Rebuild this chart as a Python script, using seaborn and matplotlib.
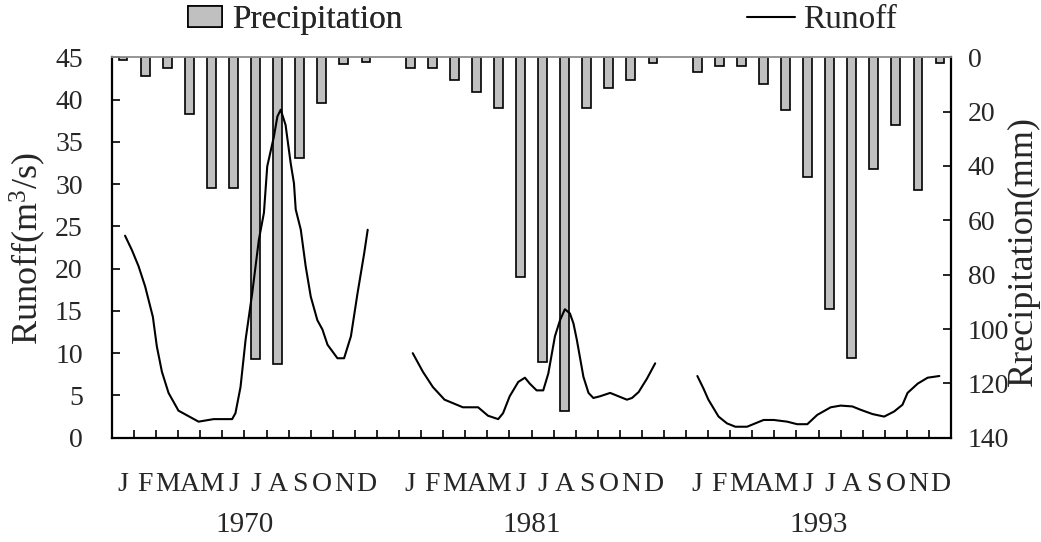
import numpy as np
import pandas as pd
import matplotlib
matplotlib.use("Agg")
import matplotlib.pyplot as plt
import matplotlib.transforms as mtransforms
from matplotlib.patches import Patch
from matplotlib.lines import Line2D
import seaborn as sns

# ---------------- data ----------------
years = ["1970", "1981", "1993"]
month_labels = ["J", "F", "M", "A", "M", "J", "J", "A", "S", "O", "N", "D"]

precip_1970 = [1.0, 7.0, 4.0, 21.0, 48.0, 48.0, 111.0, 113.0, 37.0, 17.0, 2.4, 1.6]
precip_1981 = [4.0, 4.0, 8.4, 12.8, 18.8, 80.7, 112.0, 130.0, 18.8, 11.4, 8.4, 2.2]
precip_1993 = [5.4, 3.1, 3.1, 9.7, 19.5, 44.0, 92.5, 110.5, 41.2, 24.8, 48.8, 2.2]

# runoff: time in fractional months (1 = January), value in m3/s
runoff_1970_t = [1.09, 1.40, 1.70, 2.00, 2.35, 2.53, 2.76, 3.06, 3.51, 4.42, 5.10, 5.94,
                 6.09, 6.32, 6.55, 6.85, 7.15, 7.38, 7.53, 7.83, 7.99, 8.14, 8.36, 8.59,
                 8.74, 8.82, 9.05, 9.27, 9.50, 9.80, 10.03, 10.26, 10.71, 11.01, 11.32,
                 11.62, 11.92, 12.08]
runoff_1970 = [23.9, 22.2, 20.3, 17.9, 14.3, 10.8, 7.8, 5.3, 3.2, 1.9, 2.2, 2.2,
               2.9, 6.0, 11.6, 17.1, 23.4, 26.6, 32.1, 35.6, 38.0, 38.8, 37.0, 32.5,
               30.1, 27.0, 24.6, 20.3, 16.7, 13.9, 12.8, 11.0, 9.4, 9.4, 12.0,
               17.1, 21.8, 24.6]

runoff_1981_t = [1.12, 1.58, 2.03, 2.56, 3.39, 4.08, 4.53, 4.99, 5.21, 5.51, 5.90, 6.20,
                 6.42, 6.73, 7.03, 7.26, 7.56, 7.79, 8.01, 8.24, 8.40, 8.55, 8.85, 9.08,
                 9.30, 9.60, 10.06, 10.44, 10.82, 11.05, 11.35, 11.73, 12.10]
runoff_1981 = [10.0, 7.8, 6.0, 4.5, 3.6, 3.6, 2.6, 2.2, 2.9, 4.9, 6.6, 7.1,
               6.4, 5.6, 5.6, 7.6, 12.0, 13.9, 15.2, 14.7, 13.5, 11.6, 7.2, 5.3,
               4.7, 4.9, 5.3, 4.9, 4.5, 4.7, 5.4, 7.0, 8.8]

runoff_1993_t = [1.01, 1.29, 1.51, 1.97, 2.35, 2.73, 3.26, 4.01, 4.47, 5.08, 5.53, 5.99,
                 6.44, 7.05, 7.50, 8.03, 8.41, 8.94, 9.47, 9.92, 10.30, 10.53, 10.99,
                 11.44, 11.97]
runoff_1993 = [7.3, 5.8, 4.5, 2.5, 1.7, 1.3, 1.3, 2.1, 2.1, 1.9, 1.6, 1.6,
               2.7, 3.6, 3.8, 3.7, 3.3, 2.8, 2.5, 3.1, 3.9, 5.3, 6.4,
               7.1, 7.3]

runoff_ticks = [0, 5, 10, 15, 20, 25, 30, 35, 40, 45]
precip_ticks = [0, 20, 40, 60, 80, 100, 120, 140]

# ---------------- tables ----------------
gap = 13  # 12 months + one empty slot between years
bar_rows = []
for i, (yr, vals) in enumerate(zip(years, [precip_1970, precip_1981, precip_1993])):
    for m, v in enumerate(vals):
        bar_rows.append({"pos": i * gap + m, "precip": v, "year": yr})
bars = pd.DataFrame(bar_rows)

line_rows = []
for i, (yr, ts, vs) in enumerate(zip(years,
                                     [runoff_1970_t, runoff_1981_t, runoff_1993_t],
                                     [runoff_1970, runoff_1981, runoff_1993])):
    for t, v in zip(ts, vs):
        line_rows.append({"pos": i * gap + (t - 1.0), "runoff": v, "year": yr})
lines = pd.DataFrame(line_rows)

# ---------------- style ----------------
sns.set_theme(style="white")
plt.rcParams["font.family"] = ["Liberation Serif", "DejaVu Serif"]
plt.rcParams["mathtext.fontset"] = "custom"
plt.rcParams["mathtext.rm"] = "Liberation Serif"
plt.rcParams["mathtext.it"] = "Liberation Serif:italic"

fig = plt.figure(figsize=(10.41, 5.42), dpi=100)
ax = fig.add_axes([0.1076, 0.1924, 0.8060, 0.7019])
ax2 = ax.twinx()

sns.barplot(data=bars, x="pos", y="precip", native_scale=True, width=0.4,
            color="#c0c0c0", saturation=1, edgecolor="black", linewidth=1.2,
            errorbar=None, ax=ax2)
ax2.set_ylim(140, 0)
ax2.set_yticks(precip_ticks)
ax2.set_ylabel("Rrecipitation(mm)", fontsize=26)

sns.lineplot(data=lines, x="pos", y="runoff", units="year", estimator=None,
             sort=False, color="black", linewidth=1.5, ax=ax)
ax.set_ylim(0, 45)
ax.set_yticks(runoff_ticks)
ax.set_ylabel("Runoff(m$^{3}$/s)", fontsize=26)

ax.set_zorder(ax2.get_zorder() + 1)
ax.patch.set_visible(False)

n_slots = len(years) * gap - 1
ax.set_xlim(-0.5, n_slots - 0.5)
ax.set_xticks(np.arange(-0.5, n_slots, 1.0))
ax.set_xticklabels([])
ax.set_xlabel("")
ax2.set_xlabel("")

ax.tick_params(axis="x", direction="in", length=6, width=1.2, color="black",
               bottom=True, top=False)
ax.tick_params(axis="y", direction="in", length=6, width=1.2, color="black",
               left=True, right=False, labelsize=20, pad=21)
ax2.tick_params(axis="y", direction="in", length=6, width=1.2, color="black",
                right=True, left=False, labelsize=20, pad=12)

for s in ["left", "bottom", "right"]:
    ax.spines[s].set_color("black")
    ax.spines[s].set_linewidth(1.6)
ax.spines["top"].set_color("#8c8c8c")
ax.spines["top"].set_linewidth(1.3)
for s in ax2.spines.values():
    s.set_visible(False)

ax.yaxis.set_label_coords(-0.100, 0.496)
ax.yaxis.label.set_va("center")
ax2.yaxis.set_label_coords(1.086, 0.49)
ax2.yaxis.label.set_va("center")

trans = mtransforms.blended_transform_factory(ax.transData, ax.transAxes)
for i, yr in enumerate(years):
    for m, lab in enumerate(month_labels):
        ax.text(i * gap + m, -0.122, lab, transform=trans, ha="center",
                va="center", fontsize=20)
    ax.text(i * gap + 5.5, -0.2295, yr, transform=trans, ha="center",
            va="center", fontsize=21)

# legends
h_bar = Patch(facecolor="#c0c0c0", edgecolor="black", linewidth=1.2)
h_line = Line2D([], [], color="black", linewidth=1.5)
leg1 = fig.legend([h_bar], ["Precipitation"], loc="center left",
                  bbox_to_anchor=(0.1806, 0.963), frameon=False, borderpad=0,
                  borderaxespad=0, handlelength=1.03, handleheight=0.55,
                  handletextpad=0.3, prop={"size": 24})
leg2 = fig.legend([h_line], ["Runoff"], loc="center left",
                  bbox_to_anchor=(0.7176, 0.963), frameon=False, borderpad=0,
                  borderaxespad=0, handlelength=1.45, handletextpad=0.24,
                  prop={"size": 24})
fig.add_artist(leg1)

fig.savefig("out.png", dpi=100)
